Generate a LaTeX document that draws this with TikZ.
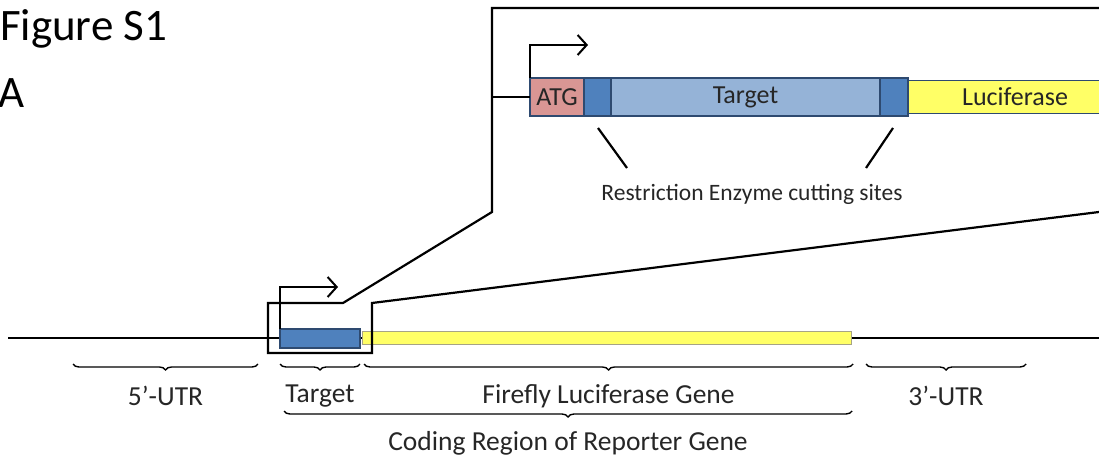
\documentclass[tikz,border=0pt]{standalone}
\usepackage{fontspec}
\setmainfont{Carlito}
\usetikzlibrary{positioning,arrows.meta,decorations.pathreplacing}
\definecolor{rosaatg}{HTML}{D99694}
\definecolor{azulsitio}{HTML}{4F81BD}
\definecolor{azuldiana}{HTML}{95B3D7}
\definecolor{amarillo}{HTML}{FFFF66}
\definecolor{bordeazul}{HTML}{2E4A70}
\definecolor{texto}{HTML}{262626}

\tikzset{
  seg/.style={draw=bordeazul, line width=1.2pt, inner sep=0pt, outer sep=0pt,
              anchor=north west, text=texto, font=\fontsize{26}{28}\selectfont},
  llave/.style={decorate, decoration={brace,mirror,amplitude=6pt}, line width=1.4pt},
  etiqueta/.style={font=\fontsize{27.5}{30}\selectfont, text=texto, inner sep=0pt},
  linea/.style={line width=2.2pt},
  flecha/.style={linea, -{Straight Barb[length=9pt,width=20pt,line width=2pt]}},
}

\begin{document}
\begin{tikzpicture}[x=1pt,y=-1pt,line cap=butt]
  \clip (0,0) rectangle (1099,462);
  % titulo
  \node[anchor=base west, inner sep=0pt, font=\fontsize{45}{48}\selectfont] (fig) at (0,41) {Figure S1};
  \node[anchor=base west, inner sep=0pt, font=\fontsize{45}{48}\selectfont] (panel) at (-2,108) {A};

  % gen reportero
  \coordinate (ini) at (8,338);
  \coordinate (fin) at (1099,338);
  \draw[linea] (ini) -- (fin);
  \node[seg, fill=azulsitio, minimum width=80pt, minimum height=19pt] (tgt) at (280,329) {};
  \node[seg, draw=gray!80!yellow, line width=1pt, fill=amarillo, minimum width=489pt, minimum height=13pt] (luc) at (362,331) {};
  \coordinate (prom) at (280,287);
  \draw[flecha] (tgt.north west) -- (prom) -- ++(58,0);

  % marco de ampliacion
  \coordinate (m1) at (1099,212);
  \coordinate (m2) at (372,303);
  \coordinate (m3) at (372,353);
  \coordinate (m4) at (268,353);
  \coordinate (m5) at (268,303);
  \coordinate (m6) at (343,303);
  \coordinate (m7) at (492,212);
  \coordinate (m8) at (492,8);
  \coordinate (m9) at (1099,8);
  \draw[linea, line join=miter] (m1) -- (m2) -- (m3) -- (m4) -- (m5) -- (m6) -- (m7) -- (m8) -- (m9);

  % construccion ampliada
  \node[seg, fill=rosaatg, minimum width=54pt, minimum height=38pt] (atg) at (530,78) {ATG};
  \node[seg, fill=azulsitio, minimum width=27pt, minimum height=38pt] (sitioA) at (atg.north east) {};
  \node[seg, fill=azuldiana, minimum width=269pt, minimum height=38pt] (diana) at (sitioA.north east) {Target};
  \node[seg, fill=amarillo, minimum width=214pt, minimum height=33pt, anchor=west] (lucA) at ([xshift=28pt]diana.east) {Luciferase};
  \node[seg, fill=azulsitio, minimum width=28pt, minimum height=38pt] (sitioB) at (diana.north east) {};
  \coordinate (entrada) at (m8 |- atg.west);
  \draw[linea] (entrada) -- (atg.west);
  \coordinate (promA) at (530,45);
  \draw[flecha] (atg.north west) -- (promA) -- ++(58,0);

  % sitios de corte
  \node[font=\fontsize{23.5}{26}\selectfont, text=texto, inner sep=0pt] (corte) at (752,194) {Restriction Enzyme cutting sites};
  \coordinate (cA1) at (598,128);
  \coordinate (cA2) at (627,168);
  \coordinate (cB1) at (893,128);
  \coordinate (cB2) at (866,168);
  \draw[linea] (cA1) -- (cA2);
  \draw[linea] (cB1) -- (cB2);

  % llaves
  \draw[llave] (73,364) -- (258,364) node[etiqueta, midway, yshift=-32pt] (utr5) {5’-UTR};
  \draw[llave] (280,364) -- (360,364) node[etiqueta, midway, yshift=-32pt] (ltgt) {Target};
  \draw[llave] (364,364) -- (853,364) node[etiqueta, midway, yshift=-32pt] (lluc) {Firefly Luciferase Gene};
  \draw[llave] (866,364) -- (1026,364) node[etiqueta, midway, yshift=-32pt] (utr3) {3’-UTR};
  \draw[llave] (284,411) -- (852,411) node[etiqueta, midway, yshift=-32pt] (cod) {Coding Region of Reporter Gene};
\end{tikzpicture}
\end{document}
